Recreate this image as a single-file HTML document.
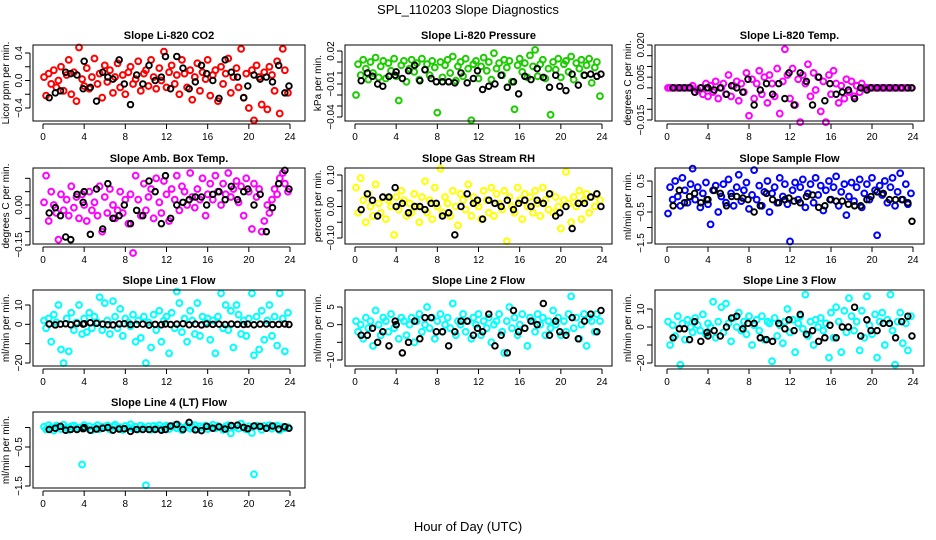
<!DOCTYPE html>
<html><head><meta charset="utf-8"><style>
html,body{margin:0;padding:0;background:#fff;}
svg{display:block;font-family:"Liberation Sans",sans-serif;}
</style></head><body>
<svg id="chart" width="936" height="540" viewBox="0 0 936 540" xmlns="http://www.w3.org/2000/svg">
<text x="468" y="14" text-anchor="middle" font-size="13">SPL_110203  Slope Diagnostics</text>
<text x="468" y="531" text-anchor="middle" font-size="13">Hour of Day (UTC)</text>
</svg>
<script>
const hours=[0.1,0.3,0.55,0.8,1.05,1.3,1.5,1.75,2.0,2.3,2.5,2.75,3.0,3.25,3.5,3.8,4.0,4.25,4.5,4.75,5.0,5.3,5.5,5.75,6.0,6.25,6.5,6.8,7.0,7.25,7.5,7.75,8.0,8.3,8.5,8.75,9.0,9.25,9.5,9.8,10.0,10.25,10.5,10.75,11.0,11.3,11.5,11.75,12.0,12.25,12.5,12.8,13.0,13.25,13.5,13.75,14.0,14.3,14.5,14.75,15.0,15.25,15.5,15.8,16.0,16.25,16.5,16.75,17.0,17.3,17.5,17.75,18.0,18.25,18.5,18.8,19.0,19.25,19.5,19.75,20.0,20.3,20.5,20.75,21.0,21.25,21.5,21.8,22.0,22.25,22.5,22.75,23.0,23.3,23.5,23.8];
const blackHours=[0.6,1.2,1.7,2.2,2.7,3.3,3.9,4.0,4.6,5.2,5.8,6.3,6.8,7.4,7.9,8.5,9.1,9.7,10.3,10.9,11.5,11.9,12.4,13.0,13.6,14.2,14.8,15.4,15.9,16.5,17.1,17.7,18.3,18.9,19.5,19.9,20.5,21.1,21.7,22.3,22.9,23.5,23.9];
const xTicks=[0,4,8,12,16,20,24];

const co2=[0.05,-0.22,0.1,-0.05,0.15,-0.1,0.0,0.2,-0.15,0.08,0.3,-0.2,0.12,-0.3,0.48,0.02,-0.08,0.18,-0.12,0.05,0.32,-0.05,0.1,-0.25,0.22,-0.02,0.15,-0.18,0.05,0.25,-0.1,0.08,-0.2,0.12,0.2,-0.05,0.02,0.28,-0.15,0.1,0.15,-0.08,0.3,0.05,-0.12,0.18,0.0,0.42,-0.1,0.12,0.22,-0.05,0.08,-0.2,0.3,0.1,-0.1,0.15,-0.28,0.05,0.25,-0.15,0.12,0.02,0.3,-0.22,0.08,0.15,-0.3,0.2,-0.05,0.1,0.32,-0.18,0.05,0.18,-0.1,0.46,-0.25,0.1,-0.4,0.15,-0.58,0.22,0.05,-0.35,0.12,-0.42,0.2,0.08,-0.15,0.28,-0.48,0.46,0.15,-0.18];
const co2Black=[-0.25,-0.18,-0.15,0.12,0.1,0.08,-0.12,0.28,-0.1,-0.3,0.12,0.05,0.02,0.3,-0.05,-0.35,0.08,-0.05,0.22,0.0,0.05,0.35,-0.12,0.35,0.18,-0.12,-0.02,0.22,0.1,0.0,-0.26,0.3,0.12,0.05,-0.25,-0.08,0.08,0.02,0.05,-0.02,0.22,-0.18,-0.08];
const press=[-0.02,0.008,-0.002,0.012,0.004,-0.006,0.01,0.0,0.014,-0.004,0.006,0.011,-0.005,0.009,0.002,0.013,-0.003,-0.025,0.007,0.011,-0.008,0.004,0.012,0.001,0.009,-0.006,0.013,0.003,0.008,-0.002,0.011,0.005,-0.036,0.01,-0.004,0.007,0.012,0.0,0.015,-0.007,0.006,0.01,-0.003,0.013,0.004,-0.043,0.008,0.011,-0.005,0.006,0.014,0.002,0.01,-0.006,0.018,0.004,0.009,-0.002,0.012,0.005,0.011,-0.008,-0.033,0.007,0.013,0.001,0.009,-0.004,0.016,0.006,0.021,-0.003,0.008,0.012,-0.005,0.004,-0.038,0.01,0.003,0.013,-0.004,0.008,0.011,0.001,0.015,-0.006,0.009,0.004,0.012,-0.002,0.007,0.013,-0.009,0.005,0.010,-0.021];
const pressBlack=[-0.007,0.0,-0.003,-0.01,-0.012,-0.003,-0.002,0.001,-0.005,0.002,0.007,-0.007,0.003,-0.005,-0.008,-0.008,-0.008,-0.009,0.0,-0.009,-0.005,0.002,-0.015,-0.012,-0.01,-0.002,-0.013,-0.008,-0.019,-0.003,-0.006,0.004,-0.004,-0.013,-0.002,-0.012,-0.016,-0.001,-0.011,-0.002,-0.001,-0.003,-0.001];
const temp=[0,0,0,0,0,0,0,0,0,0,0.001,-0.002,-0.001,0.0,-0.003,0.002,-0.004,0.001,-0.002,0.003,-0.005,0.0,0.002,-0.003,0.006,-0.004,0.001,0.003,-0.006,0.002,-0.002,0.007,-0.013,0.004,-0.005,0.002,0.008,-0.003,0.005,-0.007,0.006,0.002,-0.004,0.009,-0.012,0.003,0.018,0.006,-0.005,0.009,-0.008,0.004,-0.016,0.006,0.002,0.011,-0.004,0.007,-0.001,0.005,-0.011,0.003,-0.016,0.006,-0.003,0.008,0.002,-0.007,0.001,-0.005,0.004,-0.002,0.003,-0.004,0.001,-0.002,0.002,0,0,0,0,0,0,0,0,0,0,0,0,0,0,0,0,0,0,0];
const tempBlack=[0,0,0,0,-0.002,0,0,0,-0.001,0,-0.003,0.001,0.0,-0.002,0.004,-0.008,-0.001,0.002,-0.003,0.002,-0.005,0.007,-0.008,0.007,0.003,-0.008,0.005,-0.006,0.002,-0.003,-0.002,-0.001,-0.005,0.0,-0.001,0,0,0,0,0,0,0,0];
const amb=[0.01,0.11,-0.06,0.05,0.0,-0.03,-0.13,0.04,-0.02,0.02,-0.04,0.07,-0.01,0.03,-0.05,0.04,0.0,-0.06,0.05,-0.02,0.01,-0.04,0.07,-0.1,0.03,-0.03,0.06,0.0,-0.05,-0.02,0.05,-0.03,0.02,-0.07,0.04,-0.18,0.11,0.02,-0.04,0.08,-0.02,0.03,0.06,-0.05,0.1,0.01,-0.03,0.09,0.04,-0.06,0.06,0.02,0.11,-0.02,0.07,0.05,0.0,0.12,0.03,-0.01,0.06,0.02,0.1,-0.04,0.04,0.08,0.02,0.11,0.05,0.0,0.08,0.04,0.12,0.03,0.06,0.09,0.01,0.07,-0.04,0.1,0.05,-0.09,0.08,0.03,0.06,-0.1,-0.06,0.0,-0.03,0.02,0.06,0.04,0.1,0.12,0.08,0.05];
const ambBlack=[-0.03,-0.01,-0.04,-0.12,-0.13,0.04,0.01,0.05,-0.11,0.06,-0.09,0.08,-0.05,-0.04,0.0,-0.07,-0.02,-0.04,0.09,0.05,-0.07,0.11,-0.05,0.0,0.01,0.02,0.03,0.03,0.0,0.04,0.05,0.02,0.07,0.02,0.05,0.06,0.0,0.04,-0.1,-0.01,0.08,0.13,0.06];
const rh=[0.06,-0.02,0.09,0.02,-0.05,0.04,0.0,-0.03,0.07,0.01,-0.02,0.03,-0.04,0.02,0.0,-0.09,0.03,-0.01,0.05,0.02,-0.03,0.01,-0.02,0.04,0.0,-0.05,0.03,0.08,-0.02,0.02,-0.04,0.06,0.0,0.12,-0.02,0.03,0.01,-0.03,0.05,0.0,-0.06,0.04,0.02,-0.01,0.07,-0.03,0.03,0.01,0.0,-0.04,0.05,0.02,-0.02,0.06,-0.03,0.04,0.01,-0.01,0.05,-0.11,0.03,0.0,-0.02,0.06,0.02,-0.04,0.04,0.0,0.03,-0.02,0.05,0.01,-0.03,0.06,0.02,-0.01,0.04,-0.02,0.03,0.0,-0.07,0.02,0.11,0.01,-0.05,0.03,0.0,0.05,-0.04,0.02,0.04,-0.02,0.03,0.0,0.04,0.02];
const rhBlack=[-0.01,0.04,0.02,-0.03,0.03,0.03,0.06,0.0,0.01,-0.02,0.0,0.0,-0.01,0.01,0.01,-0.03,-0.02,-0.09,0.0,0.04,0.01,0.02,-0.04,0.02,0.01,0.0,0.02,-0.01,0.01,0.02,0.0,0.02,0.01,0.04,-0.03,-0.02,0.0,-0.07,0.01,0.01,0.03,0.04,0.0];
const sampleFlow=[-0.55,0.3,-0.1,0.5,0.0,-0.3,0.6,0.2,-0.2,0.4,0.9,-0.1,0.3,-0.35,0.1,0.45,-0.25,-0.9,0.2,0.35,-0.5,0.0,0.4,-0.2,0.55,0.1,-0.3,0.3,0.7,-0.15,0.2,0.45,-0.4,0.05,0.85,-0.1,0.35,-0.3,0.15,0.5,-0.5,0.1,0.3,-0.2,0.6,0.0,0.4,-0.25,-1.45,0.2,0.45,-0.1,0.3,0.55,-0.35,0.1,0.4,-0.2,0.6,0.05,0.35,-0.45,0.2,0.5,-0.1,0.3,0.65,-0.3,0.15,0.4,-0.6,0.0,0.45,-0.15,0.3,0.55,-0.35,0.1,0.4,-0.1,0.6,0.2,-1.25,0.35,0.05,0.5,-0.2,0.3,0.6,-0.3,0.15,0.75,-0.1,0.4,-0.25,0.1];
const sampleFlowBlack=[-0.3,0.2,-0.2,0.0,0.1,-0.2,-0.1,-0.1,0.2,0.1,-0.3,0.0,0.0,-0.05,-0.1,-0.5,-0.3,0.1,-0.1,-0.2,-0.1,-0.05,-0.15,-0.2,0.0,0.05,-0.35,-0.3,-0.1,-0.15,-0.15,-0.25,-0.3,-0.3,-0.1,0.0,0.15,0.1,-0.1,-0.1,-0.1,-0.2,-0.8];
const line1=[2,-2,3,-9,5,1,10,-13,-20,3,-14,6,-3,1,10,-5,3,-4,6,-2,4,1,14,-3,11,2,-5,12,4,-2,8,-6,3,1,-1,5,-9,2,-7,4,-20,1,-12,5,-3,7,-9,2,4,-15,6,-2,17,11,-4,3,-9,7,2,-5,11,-6,4,1,3,-8,2,-15,4,16,-2,10,-3,7,-12,10,5,-5,2,-6,3,16,-16,4,-13,7,-8,2,10,-6,4,-11,16,3,-14,6];
const line1Black=[0.2,-0.3,0.1,0.3,-0.2,0.4,0.1,0.3,0.8,0.5,0.1,-0.2,-0.3,0.2,0.3,-0.1,0.0,0.1,-0.4,0.0,-0.2,0.2,-0.1,0.1,0.3,-0.2,0.1,-0.3,0.2,0.0,0.1,-0.1,0.2,0.0,-0.1,0.1,-0.2,0.1,0.2,-0.1,0.0,0.2,-0.1];
const line2=[1,-2,0,-4,2,-1,1,-6,4,0,-3,2,1,-2,3,-1,0,-4,2,1,-3,0,2,-5,1,3,-2,0,5,-1,2,-4,1,3,-2,0,2,-1,6,-3,1,0,3,-2,1,-4,2,0,3,-3,1,-1,2,-5,0,1,3,-2,-8,1,5,-1,2,-3,0,3,-1,-6,2,1,-2,3,0,2,-3,1,-1,4,0,2,-3,1,-2,3,8,-1,2,-4,0,3,-6,2,1,-2,3,1];
const line2Black=[-3,-3,-1,-5,-2,-6,1,0,-8,-5,1,-4,2,2,-2,-2,-6,-2,1,1,-3,-1,-2,3,-6,-3,-8,4,-2,-1,1,0,6,-3,1,-2,-3,2,-4,1,3,-2,4];
const line3=[3,-10,1,-5,6,-21,2,-7,4,0,-3,5,1,-2,7,-4,2,0,14,-6,3,11,-3,13,2,-8,5,0,8,-2,3,-4,6,-10,1,4,-2,6,-7,3,2,-19,5,-5,1,-9,3,10,-3,4,-14,2,6,-1,18,-5,3,-10,4,0,5,-2,2,-17,8,-6,11,3,-14,9,-3,16,6,-2,3,-13,9,-6,17,1,-4,7,-17,3,8,-10,4,18,-2,-21,3,8,-9,2,-13,6];
const line3Black=[-6,-1,-1,-7,3,-8,-3,-5,-2,-5,0,5,6,-1,2,2,-6,-7,-8,2,-1,4,-2,7,-4,-2,-8,-6,1,-6,0,0,11,-5,4,-2,-2,2,2,-6,3,6,-5];
const line4=[0.02,-0.05,0.06,0.0,-0.08,0.05,0.02,-0.04,0.07,0.0,-0.06,0.03,0.05,-0.03,0.0,-0.95,0.06,-0.02,0.03,-0.07,0.01,0.06,-0.04,0.02,0.0,0.05,-0.05,0.03,0.07,-0.02,0.01,-0.06,0.04,0.0,0.08,-0.03,0.02,-0.05,0.05,0.01,-1.48,0.03,-0.06,0.04,0.0,0.06,-0.03,0.02,0.05,-0.04,0.01,0.06,-0.02,0.03,-0.07,0.0,0.05,-0.03,0.02,0.06,-0.05,0.03,0.0,0.05,-0.04,0.02,0.07,-0.02,0.04,0.0,-0.06,0.03,0.06,-0.15,0.01,0.04,-0.03,0.1,0.02,-0.05,0.03,-0.14,-1.2,0.05,0.02,-0.06,0.04,0.0,0.06,-0.03,0.03,0.05,-0.07,0.02,-0.02,0.01];
const line4Black=[-0.05,-0.02,0.03,-0.07,-0.05,-0.05,-0.03,0.0,-0.07,-0.04,-0.02,0.0,-0.07,-0.04,-0.03,-0.1,-0.05,-0.05,-0.05,-0.05,-0.07,-0.05,0.04,0.08,-0.05,0.13,-0.06,-0.08,0.03,-0.02,0.02,-0.04,0.05,0.06,0.0,-0.03,0.04,0.03,-0.02,0.04,-0.04,0.02,-0.02];

const NS="http://www.w3.org/2000/svg";
const svg=document.getElementById('chart');
const cols=[{x0:33,x1:305,h0:43,h24:290},{x0:345,x1:612,h0:355,h24:602},{x0:655,x1:924,h0:667,h24:913}];
const rowsTop=[45,168,290,412];
const H=76;
const panels=[
 {key:'co2',title:'Slope Li-820 CO2',ylab:'Licor ppm per min.',col:0,row:0,color:'#ff0000',vals:co2,blk:co2Black,cal:[0.4,53,-0.4,108],ticks:[-0.4,-0.2,0,0.2,0.4],labels:['0.4','0.0','-0.4'],labelVals:[0.4,0,-0.4]},
 {key:'pressure',title:'Slope Li-820 Pressure',ylab:'kPa per min.',col:1,row:0,color:'#1ccc00',vals:press,blk:pressBlack,cal:[0.02,51,-0.04,117],ticks:[0.02,0.01,0,-0.01,-0.02,-0.03,-0.04],labels:['0.02','-0.01','-0.04'],labelVals:[0.02,-0.01,-0.04]},
 {key:'temp',title:'Slope Li-820 Temp.',ylab:'degrees C per min.',col:2,row:0,color:'#ff00ff',vals:temp,blk:tempBlack,cal:[0.02,45,-0.015,120],ticks:[0.02,0.015,0.01,0.005,0,-0.005,-0.01,-0.015],labels:['0.020','0.005','-0.015'],labelVals:[0.02,0.005,-0.015]},
 {key:'amb',title:'Slope Amb. Box Temp.',ylab:'degrees C per min.',col:0,row:1,color:'#ff00ff',vals:amb,blk:ambBlack,cal:[0,205,-0.15,245],ticks:[0.1,0.05,0,-0.05,-0.1,-0.15],labels:['0.00','-0.15'],labelVals:[0,-0.15]},
 {key:'rh',title:'Slope Gas Stream RH',ylab:'percent per min.',col:1,row:1,color:'#ffff00',vals:rh,blk:rhBlack,cal:[0.1,175,-0.1,238],ticks:[0.1,0.05,0,-0.05,-0.1],labels:['0.10','0.00','-0.10'],labelVals:[0.1,0,-0.1]},
 {key:'sample-flow',title:'Slope Sample Flow',ylab:'ml/min per min.',col:2,row:1,color:'#0000ff',vals:sampleFlow,blk:sampleFlowBlack,cal:[0.5,181,-1.5,243],ticks:[0.5,0,-0.5,-1,-1.5],labels:['0.5','-0.5','-1.5'],labelVals:[0.5,-0.5,-1.5]},
 {key:'line1',title:'Slope Line 1 Flow',ylab:'ml/min per min.',col:0,row:2,color:'#00ffff',vals:line1,blk:line1Black,cal:[10,305,-20,363],ticks:[10,0,-10,-20],labels:['10','0','-20'],labelVals:[10,0,-20]},
 {key:'line2',title:'Slope Line 2 Flow',ylab:'ml/min per min.',col:1,row:2,color:'#00ffff',vals:line2,blk:line2Black,cal:[5,307,-10,360],ticks:[5,0,-5,-10],labels:['5','0','-10'],labelVals:[5,0,-10]},
 {key:'line3',title:'Slope Line 3 Flow',ylab:'ml/min per min.',col:2,row:2,color:'#00ffff',vals:line3,blk:line3Black,cal:[10,309,-20,363],ticks:[10,0,-10,-20],labels:['10','0','-20'],labelVals:[10,0,-20]},
 {key:'line4',title:'Slope Line 4 (LT) Flow',ylab:'ml/min per min.',col:0,row:3,color:'#00ffff',vals:line4,blk:line4Black,cal:[-0.5,447,-1.5,486],ticks:[0,-0.5,-1,-1.5],labels:['-0.5','-1.5'],labelVals:[-0.5,-1.5]}
];
function mk(tag,attrs,parent){const e=document.createElementNS(NS,tag);for(const k in attrs)e.setAttribute(k,attrs[k]);(parent||svg).appendChild(e);return e;}
panels.forEach(p=>{
 const c=cols[p.col], top=rowsTop[p.row], bot=top+H;
 const g=mk('g',{});
 
 
 const xs=h=>c.h0+(h/24)*(c.h24-c.h0);
 const ys=v=>p.cal[1]+(v-p.cal[0])*(p.cal[3]-p.cal[1])/(p.cal[2]-p.cal[0]);
 const t=mk('text',{x:(c.x0+c.x1)/2,y:top-6,'text-anchor':'middle','font-size':'11','font-weight':'bold'},g);
 t.textContent=p.title;
 
 
 const yl=mk('text',{transform:`translate(${c.x0-24},${(top+bot)/2}) rotate(-90)`,'text-anchor':'middle','font-size':'10'},g);
 yl.textContent=p.ylab;
 
 
 const pts=mk('g',{},g);
 
 
 const n=Math.min(hours.length,p.vals.length);
 for(let i=0;i<n;i++){
  const cc=mk('circle',{cx:xs(hours[i]),cy:ys(p.vals[i]),r:2.9,fill:'none',stroke:p.color,'stroke-width':2},pts);
  
  
 }
 const m=Math.min(blackHours.length,p.blk.length);
 for(let i=0;i<m;i++){
  const cc=mk('circle',{cx:xs(blackHours[i]),cy:ys(p.blk[i]),r:2.8,fill:'none',stroke:'#000','stroke-width':1.9},pts);
  
  
 }
 const box=mk('rect',{x:c.x0,y:top,width:c.x1-c.x0,height:H,fill:'none',stroke:'#000','stroke-width':1},g);
 
 
 const xa=mk('g',{},g);
 
 
 mk('line',{x1:xs(0),x2:xs(24),y1:bot+3,y2:bot+3,stroke:'#000'},xa);
 xTicks.forEach(h=>{
  mk('line',{x1:xs(h),x2:xs(h),y1:bot+3,y2:bot+8,stroke:'#000'},xa);
  const tl=mk('text',{x:xs(h),y:bot+19,'text-anchor':'middle','font-size':'10'},xa);
  tl.textContent=h;
  
  
 });
 const ya=mk('g',{},g);
 
 
 const tmin=Math.min(...p.ticks.map(ys)),tmax=Math.max(...p.ticks.map(ys));
 mk('line',{x1:c.x0-3,x2:c.x0-3,y1:tmin,y2:tmax,stroke:'#000'},ya);
 p.ticks.forEach(v=>mk('line',{x1:c.x0-8,x2:c.x0-3,y1:ys(v),y2:ys(v),stroke:'#000'},ya));
 p.labels.forEach((s,i)=>{
  const tl=mk('text',{transform:`translate(${c.x0-11},${ys(p.labelVals[i])}) rotate(-90)`,'text-anchor':'middle','font-size':'10'},ya);
  tl.textContent=s.replace('-','\u2212');
  
  
 });
});
</script>
</body></html>
